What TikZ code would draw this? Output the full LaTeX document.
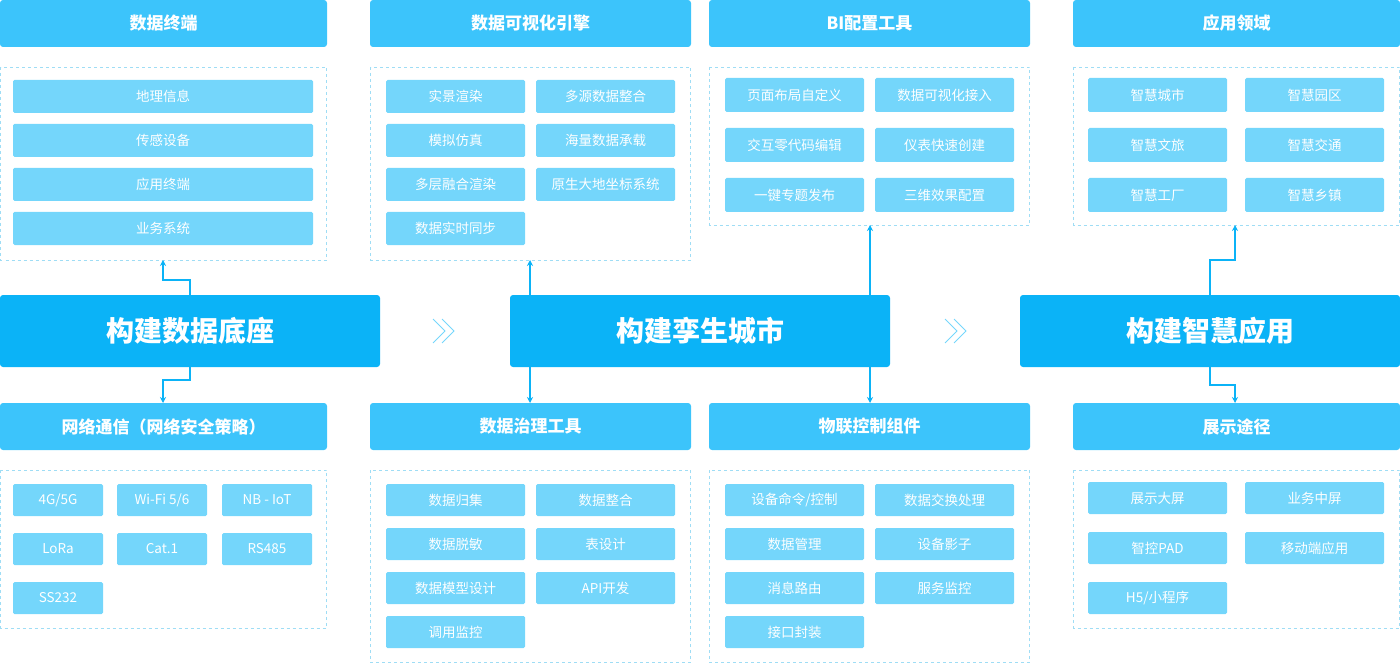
\documentclass[tikz,border=0pt]{standalone}
\usepackage{fontspec}
\setmainfont{Noto Sans CJK SC}
\usetikzlibrary{arrows.meta}
\definecolor{hd}{HTML}{3CC4FB}
\definecolor{big}{HTML}{0BB3F7}
\definecolor{it}{HTML}{74D6FB}
\definecolor{pn}{HTML}{9FDDF5}
\begin{document}
\begin{tikzpicture}[x=1pt,y=-1pt,
 hdr/.style={fill=hd,rounded corners=3pt,font=\bfseries\fontsize{17}{17}\selectfont,text=white},
 bigbox/.style={fill=big,rounded corners=3pt,font=\bfseries\fontsize{28}{28}\selectfont,text=white},
 itm/.style={fill=it,rounded corners=1.5pt,font=\fontsize{13.5}{13.5}\selectfont,text=white},
 pnl/.style={draw=pn,dashed,line width=0.6pt},
 con/.style={draw=big,line width=1.1pt,-{Stealth[length=6pt,width=6pt]}},
 chev/.style={draw=hd!70,line width=1pt}]
\useasboundingbox (0,0) rectangle (1400,663);
\newcommand\hb[5]{\node[hdr,minimum width=#3-#2,minimum height=47] (#1) at ({(#2+#3)/2},#4) {#5};}
\newcommand\ib[6]{\path[itm] (#2,#4) rectangle (#3,#5); \node[font=\fontsize{13.5}{13.5}\selectfont,text=white] (#1) at ({(#2+#3)/2},{(#4+#5)/2}) {#6};}
% headers
\hb{h1}{0}{327}{23.5}{数据终端}
\hb{h2}{370}{691}{23.5}{数据可视化引擎}
\hb{h3}{709}{1030}{23.5}{BI配置工具}
\hb{h4}{1073}{1400}{23.5}{应用领域}
\hb{b1}{0}{327}{426.5}{网络通信（网络安全策略）}
\hb{b2}{370}{691}{426.5}{数据治理工具}
\hb{b3}{709}{1030}{426.5}{物联控制组件}
\hb{b4}{1073}{1400}{426.5}{展示途径}
% panels
\draw[pnl] (0.5,67) rectangle (326.5,260);
\draw[pnl] (370.5,67) rectangle (690.5,260);
\draw[pnl] (709.5,67) rectangle (1029.5,225);
\draw[pnl] (1073.5,67) rectangle (1399.5,225);
\draw[pnl] (0.5,470) rectangle (326.5,628);
\draw[pnl] (370.5,470) rectangle (690.5,662.5);
\draw[pnl] (709.5,470) rectangle (1029.5,662.5);
\draw[pnl] (1073.5,470) rectangle (1399.5,628);
% big boxes
\node[bigbox,minimum width=380,minimum height=72] (m1) at (190,331) {构建数据底座};
\node[bigbox,minimum width=380,minimum height=72] (m2) at (700,331) {构建孪生城市};
\node[bigbox,minimum width=380,minimum height=72] (m3) at (1210,331) {构建智慧应用};
% chevrons
\foreach \x in {433,945}{
 \draw[chev] (\x,319) -- (\x+12,331) -- (\x,343);
 \draw[chev] (\x+9,319) -- (\x+21,331) -- (\x+9,343);}
% items top-left
\ib{a1}{13}{313}{80}{113}{地理信息}
\ib{a2}{13}{313}{124}{157}{传感设备}
\ib{a3}{13}{313}{168}{201}{应用终端}
\ib{a4}{13}{313}{212}{245}{业务系统}
% engine
\ib{e1}{386}{525}{80}{113}{实景渲染}
\ib{e2}{536}{675}{80}{113}{多源数据整合}
\ib{e3}{386}{525}{124}{157}{模拟仿真}
\ib{e4}{536}{675}{124}{157}{海量数据承载}
\ib{e5}{386}{525}{168}{201}{多层融合渲染}
\ib{e6}{536}{675}{168}{201}{原生大地坐标系统}
\ib{e7}{386}{525}{212}{245}{数据实时同步}
% BI
\ib{c1}{725}{864}{78}{112}{页面布局自定义}
\ib{c2}{875}{1014}{78}{112}{数据可视化接入}
\ib{c3}{725}{864}{128}{162}{交互零代码编辑}
\ib{c4}{875}{1014}{128}{162}{仪表快速创建}
\ib{c5}{725}{864}{178}{212}{一键专题发布}
\ib{c6}{875}{1014}{178}{212}{三维效果配置}
% app
\ib{d1}{1088}{1227}{78}{112}{智慧城市}
\ib{d2}{1245}{1384}{78}{112}{智慧园区}
\ib{d3}{1088}{1227}{128}{162}{智慧文旅}
\ib{d4}{1245}{1384}{128}{162}{智慧交通}
\ib{d5}{1088}{1227}{178}{212}{智慧工厂}
\ib{d6}{1245}{1384}{178}{212}{智慧乡镇}
% network
\ib{n1}{13}{103}{484}{516}{4G/5G}
\ib{n2}{117}{207}{484}{516}{Wi-Fi 5/6}
\ib{n3}{222}{312}{484}{516}{NB - IoT}
\ib{n4}{13}{103}{533}{565}{LoRa}
\ib{n5}{117}{207}{533}{565}{Cat.1}
\ib{n6}{222}{312}{533}{565}{RS485}
\ib{n7}{13}{103}{582}{614}{SS232}
% governance
\ib{g1}{386}{525}{484}{516}{数据归集}
\ib{g2}{536}{675}{484}{516}{数据整合}
\ib{g3}{386}{525}{528}{560}{数据脱敏}
\ib{g4}{536}{675}{528}{560}{表设计}
\ib{g5}{386}{525}{572}{604}{数据模型设计}
\ib{g6}{536}{675}{572}{604}{API开发}
\ib{g7}{386}{525}{616}{648}{调用监控}
% iot
\ib{i1}{725}{864}{484}{516}{设备命令/控制}
\ib{i2}{875}{1014}{484}{516}{数据交换处理}
\ib{i3}{725}{864}{528}{560}{数据管理}
\ib{i4}{875}{1014}{528}{560}{设备影子}
\ib{i5}{725}{864}{572}{604}{消息路由}
\ib{i6}{875}{1014}{572}{604}{服务监控}
\ib{i7}{725}{864}{616}{648}{接口封装}
% display
\ib{p1}{1088}{1227}{482}{514}{展示大屏}
\ib{p2}{1245}{1384}{482}{514}{业务中屏}
\ib{p3}{1088}{1227}{532}{564}{智控PAD}
\ib{p4}{1245}{1384}{532}{564}{移动端应用}
\ib{p5}{1088}{1227}{582}{614}{H5/小程序}
% connectors
\coordinate (t1) at (163,260); \coordinate (u1) at (163,403);
\coordinate (t2) at (530,260); \coordinate (u2) at (530,403);
\coordinate (t3) at (870,225); \coordinate (u3) at (870,403);
\coordinate (t4) at (1235,225); \coordinate (u4) at (1235,403);
\draw[con] (m1.north -| 190,0) -- (190,280) -- (163,280) -- (t1);
\draw[con] (m1.south -| 190,0) -- (190,380) -- (163,380) -- (u1);
\draw[con] (m2.north -| t2) -- (t2);
\draw[con] (m2.south -| u2) -- (u2);
\draw[con] (m2.north -| t3) -- (t3);
\draw[con] (m2.south -| u3) -- (u3);
\draw[con] (m3.north) -- (1210,260) -- (1235,260) -- (t4);
\draw[con] (m3.south) -- (1210,385) -- (1235,385) -- (u4);
\end{tikzpicture}
\end{document}
